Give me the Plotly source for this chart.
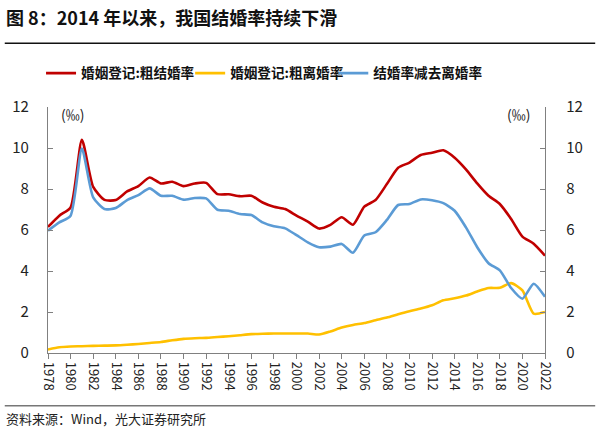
import plotly.graph_objects as go

years = list(range(1978, 2023))
marriage = [6.15, 6.7, 7.1, 10.4, 8.1, 7.47, 7.46, 7.88, 8.14, 8.56, 8.27, 8.35, 8.14, 8.27, 8.3,
            7.75, 7.74, 7.65, 7.67, 7.34, 7.13, 7.02, 6.7, 6.41, 6.07, 6.25, 6.62, 6.26, 7.14,
            7.46, 8.24, 9.04, 9.29, 9.66, 9.77, 9.89, 9.53, 8.96, 8.27, 7.67, 7.27, 6.54, 5.68,
            5.33, 4.75]
divorce = [0.17, 0.28, 0.32, 0.33, 0.35, 0.36, 0.37, 0.40, 0.44, 0.49, 0.54, 0.62, 0.69, 0.72, 0.74,
           0.78, 0.82, 0.87, 0.92, 0.94, 0.95, 0.95, 0.95, 0.95, 0.90, 1.05, 1.24, 1.37, 1.46,
           1.60, 1.73, 1.89, 2.04, 2.17, 2.33, 2.57, 2.67, 2.80, 3.00, 3.17, 3.18, 3.41, 3.05,
           1.92, 2.00]
net = [5.97, 6.37, 6.7, 9.97, 7.59, 7.02, 7.07, 7.46, 7.7, 8.03, 7.67, 7.67, 7.48, 7.56, 7.54,
       6.99, 6.94, 6.78, 6.73, 6.37, 6.18, 6.08, 5.75, 5.4, 5.16, 5.19, 5.32, 4.89, 5.73,
       5.89, 6.49, 7.22, 7.27, 7.49, 7.45, 7.31, 6.94, 6.13, 5.16, 4.38, 4.03, 3.17, 2.65,
       3.38, 2.74]

names = ["婚姻登记:粗结婚率", "婚姻登记:粗离婚率", "结婚率减去离婚率"]
colors = ["#C00000", "#FFC000", "#5B9BD5"]
series = [marriage, divorce, net]
legend_ids = ["legend", "legend2", "legend3"]
legend_x = [-0.014, 0.286, 0.574]
yticks = [0, 2, 4, 6, 8, 10, 12]

FONT = "Noto Sans CJK SC"
AX = "#808080"

fig = go.Figure()
for i, (n, c, s) in enumerate(zip(names, colors, series)):
    fig.add_trace(go.Scatter(x=years, y=s, name=n, mode="lines",
                             line=dict(color=c, width=2.6, shape="spline", smoothing=0.6),
                             yaxis="y2" if i == 2 else "y", legend=legend_ids[i]))

legend_style = dict(orientation="h", xanchor="left", y=1.137, yanchor="middle",
                    font=dict(size=13.6, weight="bold", color="#111"), itemwidth=30,
                    bgcolor="rgba(0,0,0,0)")

fig.update_layout(
    width=600, height=430,
    margin=dict(l=48, r=55, t=107, b=77),
    paper_bgcolor="white", plot_bgcolor="white",
    font=dict(family=FONT, size=14, color="#222"),
    showlegend=True,
    legend=dict(x=legend_x[0], **legend_style),
    legend2=dict(x=legend_x[1], **legend_style),
    legend3=dict(x=legend_x[2], **legend_style),
    xaxis=dict(range=[1978, 2022], tickmode="array", tickvals=years[::2],
               ticktext=[str(y) for y in years[::2]], tickangle=90,
               ticks="outside", ticklen=5, tickcolor=AX, showline=True, linecolor=AX,
               linewidth=1.3, showgrid=False, zeroline=False,
               tickfont=dict(size=13, color="#222")),
    yaxis=dict(range=[0, 12], tickvals=yticks, ticks="inside", ticklen=5, tickcolor=AX,
               showline=True, linecolor=AX, linewidth=1.3, showgrid=False, zeroline=False,
               tickfont=dict(size=15, color="#222"), ticklabelstandoff=15),
    yaxis2=dict(range=[0, 12], tickvals=yticks, ticks="inside", ticklen=5, tickcolor=AX,
                showline=True, linecolor=AX, linewidth=1.3, showgrid=False, zeroline=False,
                overlaying="y", side="right", tickfont=dict(size=15, color="#222"),
                ticklabelstandoff=17),
)

fig.add_annotation(text="<b>图 8：2014 年以来，我国结婚率持续下滑</b>", xref="paper", yref="paper",
                   x=-0.088, y=1.364, xanchor="left", yanchor="middle", showarrow=False,
                   font=dict(size=18, color="#111"))
fig.add_annotation(text="(‰)", xref="paper", yref="paper", x=0.05, y=0.97,
                   xanchor="center", yanchor="middle", showarrow=False, font=dict(size=14))
fig.add_annotation(text="(‰)", xref="paper", yref="paper", x=0.946, y=0.97,
                   xanchor="center", yanchor="middle", showarrow=False, font=dict(size=14))
fig.add_annotation(text="资料来源：Wind，光大证券研究所", xref="paper", yref="paper",
                   x=-0.088, y=-0.265, xanchor="left", yanchor="middle", showarrow=False,
                   font=dict(size=13, color="#222"))
fig.add_shape(type="line", xref="paper", yref="paper", x0=-0.087, x1=1.101, y0=1.259, y1=1.259,
              line=dict(color="#111", width=1.5))
fig.add_shape(type="line", xref="paper", yref="paper", x0=-0.087, x1=1.101, y0=-0.214, y1=-0.214,
              line=dict(color="#777", width=1.5))

fig.write_html("out.html", config={"displayModeBar": False},
               post_script="document.body.style.margin='0';")
